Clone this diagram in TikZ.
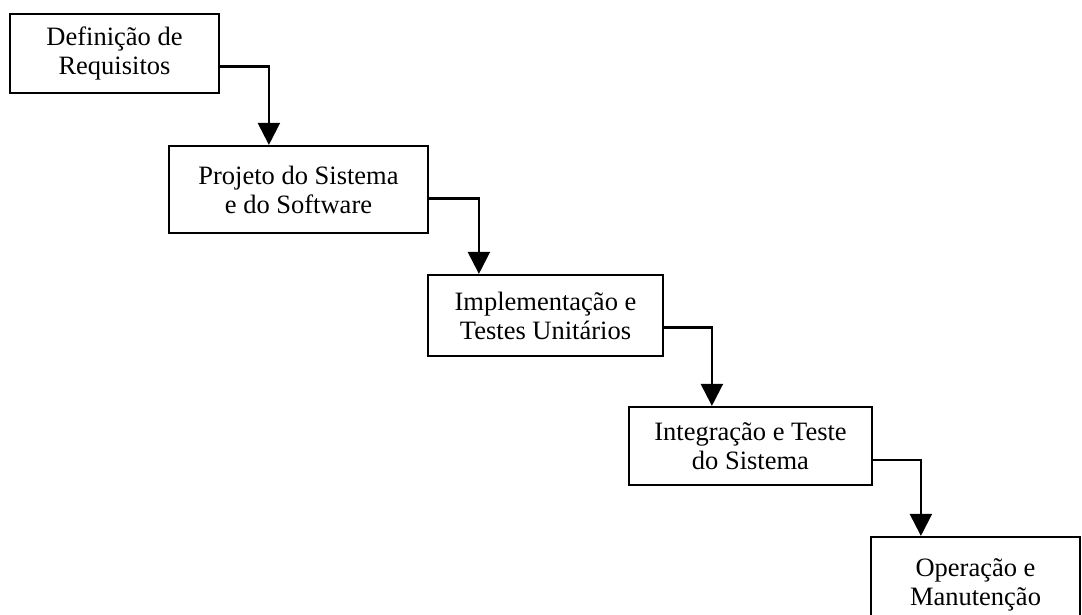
\documentclass[tikz,border=0pt]{standalone}
\usepackage{fontspec}
\setmainfont{Liberation Serif}
\usetikzlibrary{arrows.meta}
\begin{document}
\begin{tikzpicture}[x=1pt,y=-1pt,
  stagebox/.style={draw=black, line width=2.2pt, fill=white, inner sep=0pt, align=center,
    font=\fontsize{26.5}{29}\selectfont, anchor=center},
  flow/.style={draw=black, line width=2.2pt, -{Triangle[width=22pt,length=22pt]}}]
\clip (0,0) rectangle (1082,615);
\fill[white] (0,0) rectangle (1082,615);
\node[stagebox, minimum width=209pt, minimum height=79pt] (b1) at (114.5,53.5) {Definição de\\Requisitos};
\node[stagebox, minimum width=259pt, minimum height=87pt] (b2) at (298.5,189.5) {Projeto do Sistema\\e do Software};
\node[stagebox, minimum width=235pt, minimum height=81pt] (b3) at (545.5,315.5) {Implementação e\\Testes Unitários};
\node[stagebox, minimum width=243pt, minimum height=78pt] (b4) at (750.5,446) {Integração e Teste\\do Sistema};
\node[stagebox, minimum width=209pt, minimum height=96pt] (b5) at (975.5,585) {Operação e\\Manutenção};
\draw[flow] ([yshift=-13pt]b1.east) -| ([xshift=101pt]b2.north west);
\draw[flow] ([yshift=-9pt]b2.east) -| ([xshift=52pt]b3.north west);
\draw[flow] ([yshift=-12pt]b3.east) -| ([xshift=84pt]b4.north west);
\draw[flow] ([yshift=-14pt]b4.east) -| ([xshift=51pt]b5.north west);
\end{tikzpicture}
\end{document}
